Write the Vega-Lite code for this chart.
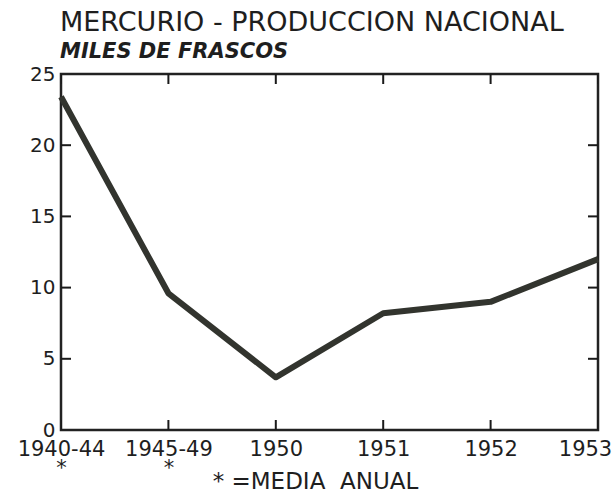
{
  "$schema": "https://vega.github.io/schema/vega-lite/v6.json",
  "width": 537,
  "height": 356,
  "autosize": {"type": "none"},
  "padding": {"left": 61, "top": 74, "right": 17, "bottom": 63},
  "background": "white",
  "title": {
    "text": "MERCURIO - PRODUCCION NACIONAL",
    "subtitle": "MILES DE FRASCOS",
    "anchor": "start",
    "frame": "group",
    "font": "DejaVu Sans",
    "fontSize": 27,
    "fontWeight": "normal",
    "color": "#1e1e1e",
    "subtitleFont": "DejaVu Sans",
    "subtitleFontSize": 21,
    "subtitleFontStyle": "italic",
    "subtitleFontWeight": "bold",
    "subtitleColor": "#1e1e1e",
    "subtitlePadding": 4,
    "offset": 1,
    "dx": -1
  },
  "config": {
    "view": {"stroke": "#222222", "strokeWidth": 2.5},
    "axis": {
      "domain": false,
      "grid": false,
      "ticks": false,
      "tickSize": 0,
      "labelFont": "DejaVu Sans",
      "labelFontSize": 20,
      "labelColor": "#1e1e1e",
      "titleFont": "DejaVu Sans",
      "titleColor": "#1e1e1e"
    }
  },
  "datasets": {
    "produccion": [
      {"periodo": "1940-44", "miles": 23.4},
      {"periodo": "1945-49", "miles": 9.6},
      {"periodo": "1950", "miles": 3.7},
      {"periodo": "1951", "miles": 8.2},
      {"periodo": "1952", "miles": 9.0},
      {"periodo": "1953", "miles": 12.0}
    ],
    "marcas_y": [
      {"valor": 5},
      {"valor": 10},
      {"valor": 15},
      {"valor": 20}
    ]
  },
  "layer": [
    {
      "data": {"name": "produccion"},
      "mark": {"type": "tick", "orient": "vertical", "clip": true, "size": 20, "thickness": 2, "color": "#1a1a1a", "opacity": 1},
      "encoding": {
        "x": {"field": "periodo", "type": "ordinal", "scale": {"type": "point", "padding": 0, "domain": ["1940-44", "1945-49", "1950", "1951", "1952", "1953"]}, "axis": null},
        "y": {"datum": 0, "type": "quantitative", "scale": {"domain": [0, 25], "nice": false}, "axis": null}
      }
    },
    {
      "data": {"name": "produccion"},
      "mark": {"type": "tick", "orient": "vertical", "clip": true, "size": 20, "thickness": 2, "color": "#1a1a1a", "opacity": 1},
      "encoding": {
        "x": {"field": "periodo", "type": "ordinal", "axis": null},
        "y": {"datum": 25, "type": "quantitative", "axis": null}
      }
    },
    {
      "data": {"name": "marcas_y"},
      "mark": {"type": "tick", "orient": "horizontal", "clip": true, "size": 20, "thickness": 2, "color": "#1a1a1a", "opacity": 1},
      "encoding": {
        "x": {"datum": "1940-44", "type": "ordinal", "axis": null},
        "y": {"field": "valor", "type": "quantitative", "axis": null}
      }
    },
    {
      "data": {"name": "marcas_y"},
      "mark": {"type": "tick", "orient": "horizontal", "clip": true, "size": 20, "thickness": 2, "color": "#1a1a1a", "opacity": 1},
      "encoding": {
        "x": {"datum": "1953", "type": "ordinal", "axis": null},
        "y": {"field": "valor", "type": "quantitative", "axis": null}
      }
    },
    {
      "data": {"name": "produccion"},
      "mark": {"type": "line", "color": "#32342e", "strokeWidth": 6, "strokeJoin": "round"},
      "encoding": {
        "x": {
          "field": "periodo",
          "type": "ordinal",
          "axis": {
            "orient": "bottom",
            "labelAngle": 0,
            "labelPadding": 8,
            "labelFontSize": 21,
            "labelLineHeight": 19,
            "labelBaseline": "top",
            "labelOffset": {"condition": {"test": "datum.value == '1953'", "value": -13}, "value": 0},
            "labelExpr": "datum.value == '1940-44' || datum.value == '1945-49' ? [datum.label, '*'] : datum.label",
            "title": "* =MEDIA\u00a0\u00a0ANUAL",
            "titleFontSize": 23,
            "titleFontWeight": "normal",
            "titleX": 254,
            "titleY": 58,
            "titleAlign": "center",
            "titleBaseline": "alphabetic"
          }
        },
        "y": {
          "field": "miles",
          "type": "quantitative",
          "axis": {
            "orient": "left",
            "values": [0, 5, 10, 15, 20, 25],
            "labelPadding": 6,
            "title": null
          }
        }
      }
    }
  ],
  "resolve": {"axis": {"x": "independent", "y": "independent"}}
}
